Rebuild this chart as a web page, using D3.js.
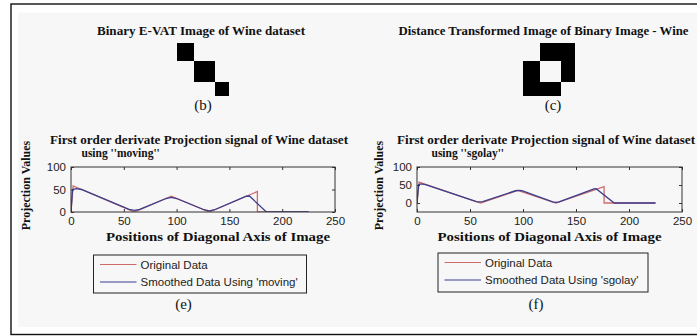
<!DOCTYPE html>
<html>
<head>
<meta charset="utf-8">
<script src="https://cdn.jsdelivr.net/npm/d3@7"></script>
<style>
  html, body { margin: 0; padding: 0; background: #fff; }
  svg { display: block; }
  .serif { font-family: "Liberation Serif", "Times New Roman", serif; }
  .sans { font-family: "Liberation Sans", Arial, sans-serif; }
</style>
</head>
<body>
<svg id="fig" width="697" height="336"></svg>
<script>
// Cluster sizes along the VAT diagonal (Wine: 178 samples)
const clusterSizes = [59, 71, 48];
// Block images: 1 = black block, 0 = white block
const binaryEVAT = [[1, 0, 0], [0, 1, 0], [0, 0, 1]];
const distanceImage = [[0, 1, 1], [1, 0, 1], [1, 1, 0]];

const xTicks = [0, 50, 100, 150, 200, 250];
const yTicks = [0, 50, 100];

// First order derivative projection signal (original)
const originalPos = [0, 2, 60, 95, 131, 176.5, 176.5, 225];
const originalVal = [0, 58, 0, 35, 0, 45.5, 0, 0];

// Smoothed with 'moving'
const movingPos = [0, 1.5, 5, 10, 55, 60, 65, 90, 95, 100, 126, 131, 136, 166, 169, 185, 225];
const movingVal = [0, 50, 52, 50, 6, 3.5, 6, 30, 32.5, 30, 5, 2.5, 5, 35, 35.5, 0, 0];

// Smoothed with 'sgolay'
const sgolayPos = [0, 1.5, 4, 8, 56, 59, 62, 93, 96, 99, 128, 131, 134, 167, 169, 186, 225];
const sgolayVal = [0, 51, 53, 51, 4, 3, 4, 34, 35, 34, 3, 1.5, 3, 39, 39.5, 0, 0];

const svg = d3.select("#fig");

// page frame
svg.append("rect").attr("x", 11).attr("y", 4).attr("width", 700).attr("height", 330.5)
  .attr("fill", "#fff").attr("stroke", "#111").attr("stroke-width", 1.4);
svg.append("rect").attr("x", 18).attr("y", 12.5).attr("width", 690).attr("height", 314.5)
  .attr("fill", "#f7f7f7");

function text(x, y, str, opts) {
  const t = svg.append("text").attr("x", x).attr("y", y).text(str)
    .attr("class", opts.cls || "serif")
    .attr("font-size", opts.size || 12)
    .attr("font-weight", opts.bold ? "bold" : "normal")
    .attr("fill", opts.fill || "#111")
    .attr("text-anchor", opts.anchor || "start");
  if (opts.len) t.attr("textLength", opts.len).attr("lengthAdjust", "spacingAndGlyphs");
  if (opts.rotate) t.attr("transform", `rotate(-90,${x},${y})`);
  return t;
}

// block image drawn from cluster sizes
function blockImage(x0, y0, w, h, matrix) {
  const total = d3.sum(clusterSizes);
  const edges = d3.cumsum([0, ...clusterSizes]);
  const sx = d3.scaleLinear().domain([0, total]).range([x0, x0 + w]);
  const sy = d3.scaleLinear().domain([0, total]).range([y0, y0 + h]);
  const cells = [];
  matrix.forEach((row, i) => row.forEach((v, j) => cells.push({ i, j, v })));
  svg.append("g").selectAll("rect").data(cells.filter(c => c.v === 1)).join("rect")
    .attr("x", c => sx(edges[c.j]))
    .attr("y", c => sy(edges[c.i]))
    .attr("width", c => sx(edges[c.j + 1]) - sx(edges[c.j]))
    .attr("height", c => sy(edges[c.i + 1]) - sy(edges[c.i]))
    .attr("fill", "#000")
    .attr("shape-rendering", "crispEdges");
}

// top panels
text(201, 35, "Binary E-VAT Image of Wine dataset", { bold: true, size: 11.5, anchor: "middle", len: 208 });
blockImage(176.7, 43.3, 52.3, 52.4, binaryEVAT);
text(203, 110, "(b)", { size: 15, anchor: "middle" });

text(398.5, 35, "Distance Transformed Image of Binary Image - Wine", { bold: true, size: 11.5, len: 290 });
blockImage(523.3, 43.3, 51.7, 52.4, distanceImage);
text(553, 110, "(c)", { size: 15, anchor: "middle" });

// derivative projection panels
function panel(cfg) {
  const x = d3.scaleLinear().domain([0, 250]).range([cfg.x0, cfg.x1]);
  const y = d3.scaleLinear().domain(cfg.ydom).range([cfg.y1, cfg.y0]);
  const g = svg.append("g");
  const clipId = "clip" + cfg.id;
  svg.append("clipPath").attr("id", clipId).append("rect")
    .attr("x", cfg.x0).attr("y", cfg.y0).attr("width", cfg.x1 - cfg.x0).attr("height", cfg.y1 - cfg.y0);

  const line = d3.line().x(d => x(d[0])).y(d => y(d[1]));
  const lines = g.append("g").attr("clip-path", `url(#${clipId})`);
  lines.append("path").datum(d3.zip(originalPos, originalVal))
    .attr("d", line).attr("fill", "none").attr("stroke", "#cf6b6b").attr("stroke-width", 1.3);
  lines.append("path").datum(d3.zip(cfg.pos, cfg.val))
    .attr("d", line).attr("fill", "none").attr("stroke", "#3c3f8f").attr("stroke-width", 1.3);

  // axes with inward ticks on all four sides
  const tl = 3;
  const axB = g.append("g").attr("transform", `translate(0,${cfg.y1})`)
    .call(d3.axisBottom(x).tickValues(xTicks).tickSize(-tl).tickPadding(5));
  const axT = g.append("g").attr("transform", `translate(0,${cfg.y0})`)
    .call(d3.axisTop(x).tickValues(xTicks).tickSize(-tl).tickFormat(""));
  const axL = g.append("g").attr("transform", `translate(${cfg.x0},0)`)
    .call(d3.axisLeft(y).tickValues(yTicks).tickSize(-tl).tickPadding(5));
  const axR = g.append("g").attr("transform", `translate(${cfg.x1},0)`)
    .call(d3.axisRight(y).tickValues(yTicks).tickSize(-tl).tickFormat(""));
  [axB, axT, axL, axR].forEach(a => {
    a.select(".domain").remove();
    a.selectAll(".tick line").attr("stroke", "#333");
    a.selectAll("text").attr("font-family", "Liberation Sans, Arial, sans-serif")
      .attr("font-size", 11.5).attr("fill", "#222");
  });
  g.append("rect").attr("x", cfg.x0).attr("y", cfg.y0)
    .attr("width", cfg.x1 - cfg.x0).attr("height", cfg.y1 - cfg.y0)
    .attr("fill", "none").attr("stroke", "#333").attr("stroke-width", 1);

  // titles and labels
  text(cfg.tx, 143.5, "First order derivate Projection signal of Wine dataset", { bold: true, size: 11.5, len: 298 });
  text(cfg.tx2, 157, cfg.sub, { bold: true, size: 11.5 });
  text(cfg.ylx, 185.5, "Projection Values", { bold: true, size: 12, anchor: "middle", rotate: true });
  text((cfg.x0 + cfg.x1) / 2 + cfg.xlOff, 241, "Positions of Diagonal Axis of Image", { bold: true, size: 11.5, anchor: "middle", len: 224 });

  // legend
  const L = cfg.leg;
  svg.append("rect").attr("x", L.x).attr("y", L.y).attr("width", L.w).attr("height", L.h)
    .attr("fill", "#f7f7f7").attr("stroke", "#222").attr("stroke-width", 1);
  const entries = [["Original Data", "#cf6b6b"], [cfg.legText, "#3c3f8f"]];
  entries.forEach((e, i) => {
    const ly = L.y + 9.5 + i * 17.5;
    svg.append("line").attr("x1", L.x + 6.5).attr("x2", L.x + 43).attr("y1", ly).attr("y2", ly)
      .attr("stroke", e[1]).attr("stroke-width", 1.2);
    text(L.x + 47, ly + 4, e[0], { cls: "sans", size: 11.5, fill: "#222" });
  });
  text(cfg.capX, 309, cfg.cap, { size: 15, anchor: "middle" });
}

panel({
  id: "e", x0: 71, x1: 335, y0: 167, y1: 212, ydom: [0, 100],
  pos: movingPos, val: movingVal,
  tx: 50, tx2: 81.5, sub: "using ''moving''", ylx: 30, xlOff: 15,
  legText: "Smoothed Data Using 'moving'",
  leg: { x: 93.5, y: 255, w: 213, h: 38 },
  cap: "(e)", capX: 183.5
});

panel({
  id: "f", x0: 417, x1: 682, y0: 167, y1: 212, ydom: [-25, 100],
  pos: sgolayPos, val: sgolayVal,
  tx: 397, tx2: 431.5, sub: "using ''sgolay''", ylx: 383, xlOff: 0,
  legText: "Smoothed Data Using 'sgolay'",
  leg: { x: 438, y: 253, w: 210, h: 39 },
  cap: "(f)", capX: 536
});
</script>
</body>
</html>
